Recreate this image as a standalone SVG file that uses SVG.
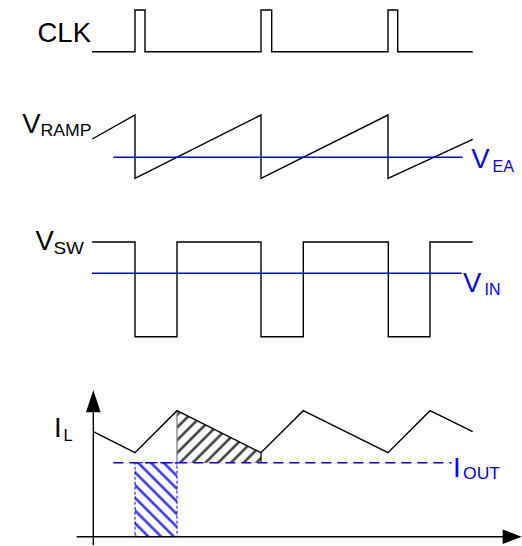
<svg xmlns="http://www.w3.org/2000/svg" width="522" height="546" viewBox="0 0 522 546">
<style>
.w{fill:none;stroke:#000;stroke-width:1.4;stroke-linejoin:miter}
.b{fill:none;stroke:#0000ff;stroke-width:1.5}
.t{font-family:"Liberation Sans",Arial,sans-serif;font-size:27.5px;fill:#000}
.s{font-family:"Liberation Sans",Arial,sans-serif;font-size:16.5px;fill:#000}
.blue{fill:#0000ff}
</style>
<defs>
<pattern id="hk" width="9" height="9" patternUnits="userSpaceOnUse" patternTransform="rotate(45)">
<line x1="4.5" y1="0" x2="4.5" y2="9" stroke="#333" stroke-width="2.4"/>
</pattern>
<pattern id="hbl" width="9" height="9" patternUnits="userSpaceOnUse" patternTransform="rotate(-45)">
<line x1="4.5" y1="0" x2="4.5" y2="9" stroke="#2a2aff" stroke-width="2.4"/>
</pattern>
</defs>
<rect width="522" height="546" fill="#fff"/>

<g id="clk">
<text class="t" x="37.5" y="41.7" textLength="53.5" lengthAdjust="spacingAndGlyphs">CLK</text>
<polyline class="w" points="92,51.7 135,51.7 135,10 145,10 145,51.7 261,51.7 261,10 271.7,10 271.7,51.7 388,51.7 388,10 397.7,10 397.7,51.7 472.7,51.7"/>
</g>

<g id="vramp">
<text class="t" x="22.3" y="132.7">V</text>
<text class="s" x="40.5" y="136" textLength="51" lengthAdjust="spacingAndGlyphs">RAMP</text>
<polyline class="w" points="92.3,139 135,115 135,178.3 261,115 261,178.3 388,115 388,178.3 472.7,139.3"/>
</g>

<g id="vea">
<line class="b" x1="113.3" y1="157.3" x2="462.7" y2="157.3"/>
<text class="t blue" x="471.3" y="167.5">V</text>
<text class="s blue" x="492.5" y="171.7" textLength="21.5" lengthAdjust="spacingAndGlyphs">EA</text>
</g>

<g id="vsw">
<text class="t" x="35.5" y="250">V</text>
<text class="s" x="53.5" y="253.5" textLength="30.5" lengthAdjust="spacingAndGlyphs">SW</text>
<polyline class="w" points="92,242 135,242 135,336.7 177,336.7 177,242 261,242 261,336.7 303.3,336.7 303.3,242 388.3,242 388.3,336.7 430,336.7 430,242 472.7,242"/>
</g>

<g id="vin">
<line class="b" x1="92" y1="273.3" x2="461.7" y2="273.3"/>
<text class="t blue" x="463" y="291.7">V</text>
<text class="s blue" x="484.5" y="295.2" textLength="16" lengthAdjust="spacingAndGlyphs">IN</text>
</g>

<g id="areas">
<polygon points="177,410.7 261,452.7 261,462.7 177,462.7" fill="url(#hk)"/>
<line x1="177" y1="410.7" x2="177" y2="462.7" stroke="#777" stroke-width="1.2"/>
<line x1="261" y1="452.7" x2="261" y2="462.7" stroke="#000" stroke-width="1.2"/>
<rect x="135" y="462.7" width="42" height="74" fill="url(#hbl)" stroke="#0000ff" stroke-width="1" stroke-dasharray="3 2"/>
</g>

<g id="axes">
<line class="w" x1="93.3" y1="545" x2="93.3" y2="405"/>
<polygon points="93.3,390 86,412.3 100.6,412.3" fill="#000"/>
<line class="w" x1="76.7" y1="536.7" x2="505" y2="536.7"/>
<polygon points="521.7,536.7 502.7,529.5 502.7,543.9" fill="#000"/>
</g>

<g id="il">
<text class="t" x="54" y="437">I</text>
<text class="s" x="63.5" y="441">L</text>
<polyline class="w" points="93.3,431.7 135,452.7 177,410.7 261,452.7 303.3,410.7 388,452.7 430,410.7 472.7,431.7"/>
</g>

<g id="iout">
<line class="b" x1="113.3" y1="462.7" x2="451.7" y2="462.7" stroke-dasharray="10 6"/>
<text class="t blue" x="453" y="477">I</text>
<text class="s blue" x="463" y="478.5" font-size="17.5" textLength="37" lengthAdjust="spacingAndGlyphs">OUT</text>
</g>
</svg>
